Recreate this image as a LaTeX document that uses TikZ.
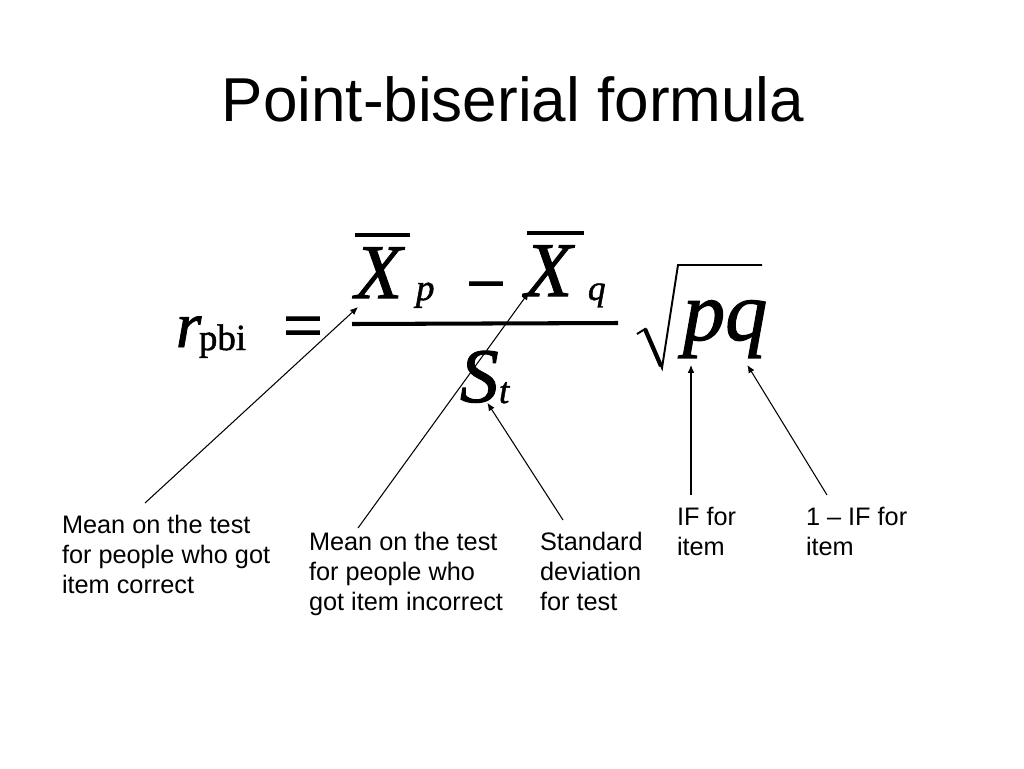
\documentclass[tikz,border=0pt]{standalone}
\usepackage{fontspec}
\newfontfamily\labelfont{Liberation Sans}
\newfontfamily\formfont{Liberation Serif}[FakeBold=1.3]
\usetikzlibrary{calc,arrows.meta}

\begin{document}
\begin{tikzpicture}[x=0.02cm, y=-0.02cm
        , every node/.style={ inner sep=0pt, outer sep=0pt }
        , lbl/.style={ anchor=base west, align=left, font=\labelfont\fontsize{14.4}{17}\selectfont }
        , frm/.style={ anchor=base west, font=\formfont\itshape\fontsize{#1}{#1}\selectfont }
        , upr/.style={ anchor=base, font=\formfont\fontsize{#1}{#1}\selectfont }
        , pointer/.style={ draw, line width=0.6pt, -{Latex[length=4.5pt,width=3.8pt]} }
        , vinc/.style={ draw, line width=#1 }
        ]

        \useasboundingbox (0,0) rectangle (1024,768);

        \node[font=\labelfont\fontsize{35.3}{40}\selectfont, anchor=base] (title) at (513,121)
            {Point-biserial formula};

        % left side
        \node[frm=37] (r) at (176,347) {r};
        \node[upr=21, anchor=base west] (pbi) at (199,350) {pbi};
        \node[upr=40] (eq) at (303,349) {=};

        % numerator and denominator
        \node[frm=44] (Xp) at (355,298) {X};
        \node[frm=21] (p) at (416,300) {p};
        \node[upr=40] (minus) at (486,307) {−};
        \node[frm=44] (Xq) at (525,296) {X};
        \node[frm=20] (q) at (588,300) {q};
        \node[frm=44] (S) at (460,402) {S};
        \node[frm=21] (t) at (499,403) {t};

        \draw[vinc=1.8pt] (355,235) -- (410,235);
        \draw[vinc=1.8pt] (527,233) -- (584,233);
        \draw[vinc=2.3pt] (352,324) -- (618,323);

        % square root of pq
        \draw[vinc=1.1pt, line join=miter] (637,334) -- (645,329) -- (662,368) -- (678,265) -- (762,265);
        \draw[vinc=2.4pt] (645,329) -- (661,366);
        \node[frm=48] (pq) at (683,340) {pq};

        % what each part means
        \node[lbl] (lab1) at (62,593) {Mean on the test\\for people who got\\item correct};
        \node[lbl] (lab2) at (309,610) {Mean on the test\\for people who\\got item incorrect};
        \node[lbl] (lab3) at (540,610) {Standard\\deviation\\for test};
        \node[lbl] (lab4) at (677,555) {IF for\\item};
        \node[lbl] (lab5) at (806,555) {1 – IF for\\item};

        \coordinate (m1) at (145,503);
        \coordinate (m2) at (358,528);
        \coordinate (m3) at (563,520);
        \coordinate (m4) at (691,495);
        \coordinate (m5) at (827,495);

        \draw[pointer] (m1) -- ($(Xp.south west)+(3,9)$);
        \draw[pointer] (m2) -- ($(Xq.south west)+(4,-4)$);
        \draw[pointer] (m3) -- ($(S.south)+(8,0)$);
        \draw[pointer] (m4) -- ($(pq.south west)+(8,7)$);
        \draw[pointer] (m5) -- ($(pq.south east)+(-20,7)$);

    \end{tikzpicture}
\end{document}
